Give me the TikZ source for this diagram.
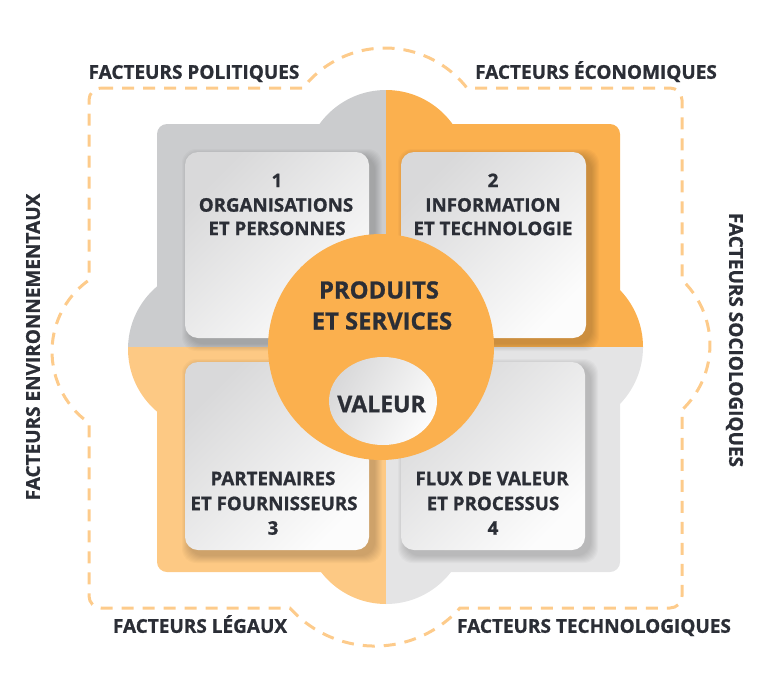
\documentclass[tikz,border=0pt]{standalone}
\usepackage{fontspec}
\setmainfont{Open Sans}[BoldFeatures={FakeBold=1}]
\usetikzlibrary{shapes.geometric}
\definecolor{qgray}{HTML}{CBCCCE}
\definecolor{qorange}{HTML}{FBB04E}
\definecolor{qlorange}{HTML}{FDC984}
\definecolor{qlgray}{HTML}{E4E4E5}
\definecolor{dashc}{HTML}{FDCB8B}
\definecolor{txt}{HTML}{2B2E36}
\definecolor{cardA}{HTML}{D9D9DA}
\definecolor{cardB}{HTML}{FCFCFC}
\newcommand{\quadfill}[1]{%
  \fill[#1,rounded corners=10pt] (157,124) rectangle (620,572);
  \fill[#1] (386,172) circle[radius=82] (386,522) circle[radius=82]
            (210,349) circle[radius=82] (561,347) circle[radius=82];}
\newcommand{\softshadow}[4]{%
  \foreach \i in {1,...,8}{\fill[black,opacity=0.022,rounded corners=14pt]
    (#1+5-\i,#2+5-\i) rectangle (#3+5+\i,#4+5+\i);}}
\begin{document}
\begin{tikzpicture}[x=1pt,y=-1pt,
  lbl/.style={text=txt, font=\bfseries\fontsize{19}{22}\selectfont, inner sep=0pt, text height=13.6pt, text depth=0pt},
  ctxt/.style={text=txt, font=\bfseries\fontsize{18.7}{22}\selectfont, inner sep=0pt, text height=13.3pt, text depth=0pt},
  ptxt/.style={text=txt, font=\bfseries\fontsize{23.8}{28}\selectfont, inner sep=0pt, text height=17pt, text depth=0pt},
  cardbox/.style={rounded corners=13pt, top color=cardA, bottom color=cardB, shading angle=45, inner sep=0pt},
  dashline/.style={draw=dashc, line width=3pt, dash pattern=on 12pt off 9pt},
]
\useasboundingbox (0,0) rectangle (768,688);
% dashed outline
\draw[dashline] (101,88) -- (303,88) arc[start angle=218, end angle=322, radius=104.05]
  -- (670,88) arc[start angle=270, end angle=360, radius=12]
  -- (682,280) arc[start angle=-46.6, end angle=46.6, radius=89.4]
  -- (682,596) arc[start angle=0, end angle=90, radius=12]
  -- (460,608) arc[start angle=41.8, end angle=138.2, radius=114.1]
  -- (101,608) arc[start angle=90, end angle=180, radius=12]
  -- (89,423) arc[start angle=125.3, end angle=234.7, radius=87.6]
  -- (89,100) arc[start angle=180, end angle=270, radius=12] -- cycle;
% quadrants
\begin{scope}\clip (0,0) rectangle (386,347); \quadfill{qgray} \end{scope}
\begin{scope}\clip (386,0) rectangle (768,347); \quadfill{qorange} \end{scope}
\begin{scope}\clip (0,347) rectangle (386,688); \quadfill{qlorange} \end{scope}
\begin{scope}\clip (386,347) rectangle (768,688); \quadfill{qlgray} \end{scope}
% card shadows
\softshadow{185}{152}{369}{338}
\softshadow{401}{152}{586}{338}
\softshadow{185}{362}{369}{550}
\softshadow{401}{362}{585}{550}
% cards
\node[cardbox, minimum width=184pt, minimum height=186pt] (c1) at (277,245) {};
\node[cardbox, minimum width=185pt, minimum height=186pt] (c2) at (493.5,245) {};
\node[cardbox, minimum width=184pt, minimum height=188pt] (c3) at (277,456) {};
\node[cardbox, minimum width=184pt, minimum height=188pt] (c4) at (493,456) {};
% card texts
\node[ctxt] (t1a) at (277,180.5) {1};
\node[ctxt] (t1b) at (276,205) {ORGANISATIONS};
\node[ctxt] (t1c) at (277,228.5) {ET PERSONNES};
\node[ctxt] (t2a) at (493,180.5) {2};
\node[ctxt] (t2b) at (493,205) {INFORMATION};
\node[ctxt] (t2c) at (493,228.5) {ET TECHNOLOGIE};
\node[ctxt] (t3a) at (273,478.5) {PARTENAIRES};
\node[ctxt] (t3b) at (274,503.5) {ET FOURNISSEURS};
\node[ctxt] (t3c) at (273,528) {3};
\node[ctxt] (t4a) at (492,478.5) {FLUX DE VALEUR};
\node[ctxt] (t4b) at (493,503.5) {ET PROCESSUS};
\node[ctxt] (t4c) at (493,528) {4};
% centre
\node[circle, fill=qorange, minimum size=226pt, inner sep=0pt] (prod) at (381,347) {};
\node[ptxt] (p1) at (379,290) {PRODUITS};
\node[ptxt] (p2) at (382,321) {ET SERVICES};
\node[ellipse, minimum width=108pt, minimum height=88pt, inner sep=0pt,
      left color=cardA, right color=cardB, shading angle=60] (val) at (383,401) {};
\node[ptxt, font=\bfseries\fontsize{23}{26}\selectfont, text height=16.4pt] (valt) at (381.5,404) {VALEUR};
% factors
\node[lbl] (fpol) at (194,72) {FACTEURS POLITIQUES};
\node[lbl] (feco) at (596,72) {FACTEURS ÉCONOMIQUES};
\node[lbl] (fleg) at (200,626) {FACTEURS LÉGAUX};
\node[lbl] (ftec) at (594,626) {FACTEURS TECHNOLOGIQUES};
\node[lbl, rotate=90] (fenv) at (33,347) {FACTEURS ENVIRONNEMENTAUX};
\node[lbl, rotate=-90] (fsoc) at (736,340) {FACTEURS SOCIOLOGIQUES};
\end{tikzpicture}
\end{document}
